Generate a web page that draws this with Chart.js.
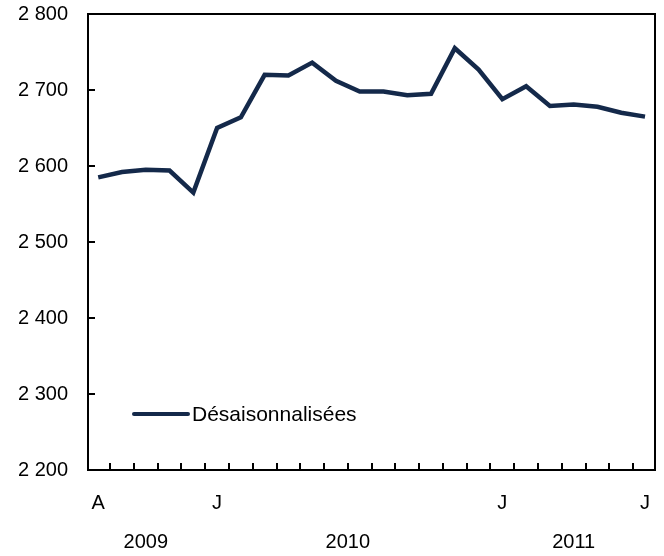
<!DOCTYPE html>
<html>
<head>
<meta charset="utf-8">
<script src="https://cdn.jsdelivr.net/npm/chart.js@4"></script>
<style>
  html, body { margin: 0; padding: 0; background: #fff; }
  #wrap { width: 664px; height: 556px; }
</style>
</head>
<body>
<div id="wrap"><canvas id="chart"></canvas></div>
<script>
// ==========================
// DATA
// ==========================
const months = [
  "2009-08", "2009-09", "2009-10", "2009-11", "2009-12",
  "2010-01", "2010-02", "2010-03", "2010-04", "2010-05", "2010-06",
  "2010-07", "2010-08", "2010-09", "2010-10", "2010-11", "2010-12",
  "2011-01", "2011-02", "2011-03", "2011-04", "2011-05", "2011-06", "2011-07"
];
const values = [
  2585, 2592, 2595, 2594, 2565,
  2650, 2664, 2720, 2719, 2736, 2712,
  2698, 2698, 2693, 2695, 2755, 2727,
  2688, 2705, 2679, 2681, 2678, 2670, 2665
];
const seriesName = "Désaisonnalisées";
const monthLabels = ["A", "J", "J", "J"];
const monthLabelIdx = [0, 5, 17, 23];
const yearLabels = ["2009", "2010", "2011"];
const yearLabelIdx = [2, 10.5, 20];
const yTicks = [2200, 2300, 2400, 2500, 2600, 2700, 2800];

// ==========================
// STYLE
// ==========================
const FONT = "'Liberation Sans', Arial, sans-serif";
const LINE_COLOR = "#14294a";

function fmt(v) {
  return String(v).replace(/\B(?=(\d{3})+(?!\d))/g, " ");
}

// box, inward ticks, x labels and legend
const decor = {
  id: "decor",
  afterDraw(chart) {
    const { ctx, chartArea: a, scales } = chart;
    const x = scales.x, y = scales.y;
    ctx.save();
    ctx.strokeStyle = "#000";
    ctx.lineWidth = 2;
    ctx.strokeRect(a.left, a.top, a.right - a.left, a.bottom - a.top);

    ctx.beginPath();
    for (let i = 0; i < months.length - 1; i++) {
      const px = Math.round(x.getPixelForValue(i + 0.5));
      ctx.moveTo(px, a.bottom);
      ctx.lineTo(px, a.bottom - 7);
    }
    yTicks.slice(1, -1).forEach(v => {
      const py = Math.round(y.getPixelForValue(v));
      ctx.moveTo(a.left, py);
      ctx.lineTo(a.left + 7, py);
    });
    ctx.lineWidth = 2;
    ctx.stroke();

    ctx.fillStyle = "#000";
    ctx.font = "20px " + FONT;
    ctx.textAlign = "center";
    ctx.textBaseline = "middle";
    monthLabels.forEach((t, i) => {
      ctx.fillText(t, x.getPixelForValue(monthLabelIdx[i]), a.bottom + 33);
    });
    yearLabels.forEach((t, i) => {
      ctx.fillText(t, x.getPixelForValue(yearLabelIdx[i]), a.bottom + 72);
    });

    // legend
    const lx = a.left + 46, ly = 414;
    ctx.strokeStyle = LINE_COLOR;
    ctx.lineWidth = 4;
    ctx.lineCap = "round";
    ctx.beginPath();
    ctx.moveTo(lx, ly);
    ctx.lineTo(lx + 54, ly);
    ctx.stroke();
    ctx.font = "21px " + FONT;
    ctx.textAlign = "left";
    ctx.fillText(seriesName, lx + 58, ly + 1);
    ctx.restore();
  }
};

new Chart(document.getElementById("chart"), {
  type: "line",
  data: {
    datasets: [{
      label: seriesName,
      data: values.map((v, i) => ({ x: i, y: v })),
      borderColor: LINE_COLOR,
      borderWidth: 4.5,
      pointRadius: 0,
      tension: 0,
      borderJoinStyle: "miter"
    }]
  },
  options: {
    responsive: true,
    maintainAspectRatio: false,
    animation: false,
    layout: { padding: { top: 14, right: 9, left: 0, bottom: 0 } },
    plugins: { legend: { display: false }, tooltip: { enabled: false } },
    scales: {
      x: {
        type: "linear",
        min: -0.43,
        max: 23.42,
        grid: { display: false, drawTicks: false },
        border: { display: false },
        ticks: { display: false },
        afterFit(s) { s.height = 86; }
      },
      y: {
        min: 2200,
        max: 2800,
        grid: { display: false, drawTicks: false },
        border: { display: false },
        afterBuildTicks(s) { s.ticks = yTicks.map(v => ({ value: v })); },
        ticks: {
          padding: 20,
          color: "#000",
          font: { family: FONT, size: 20 },
          callback: v => fmt(v)
        },
        afterFit(s) {
          s.width = 88;
          s.paddingTop = 0;
          s.paddingBottom = 0;
        }
      }
    }
  },
  plugins: [decor]
});
</script>
</body>
</html>
